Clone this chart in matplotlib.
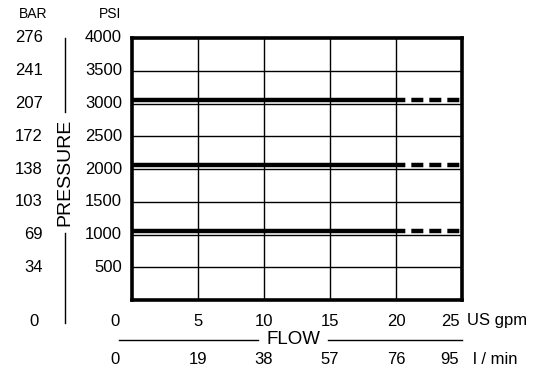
import matplotlib
matplotlib.use('Agg')
from matplotlib import pyplot as plt
from matplotlib.lines import Line2D

plt.rcParams['font.family'] = ['Liberation Sans', 'DejaVu Sans']

# data
gpm_ticks = [0, 5, 10, 15, 20, 25]
lpm_labels = ['0', '19', '38', '57', '76', '95']
psi_ticks = [0, 500, 1000, 1500, 2000, 2500, 3000, 3500, 4000]
bar_labels = ['0', '34', '69', '103', '138', '172', '207', '241', '276']
pressure_lines = [3060, 2060, 1060]
rated_flow = 20
max_flow = 25

W, H = 547, 373
fig = plt.figure(figsize=(W / 100, H / 100), dpi=100)


def fx(x):
    return x / W


def fy(y):
    return 1 - y / H


ax = fig.add_axes([fx(132), fy(300), fx(462) - fx(132), fy(38) - fy(300)])
ax.set_xlim(0, max_flow)
ax.set_ylim(0, 4000)
ax.set_xticks([])
ax.set_yticks([])
for s in ax.spines.values():
    s.set_linewidth(2.6)

# grid
ax.vlines(gpm_ticks[1:-1], 0, 4000, color='black', lw=1.0, zorder=1)
ax.hlines(psi_ticks[1:-1], 0, max_flow, color='black', lw=1.0, zorder=1)

# pressure curves
for p in pressure_lines:
    ax.plot([0, rated_flow], [p, p], color='black', lw=3.2, solid_capstyle='butt', zorder=3)
    ax.plot([rated_flow, max_flow], [p, p], color='black', lw=3.2,
            ls=(0.6, (2.7, 1.35)), dash_capstyle='butt', zorder=3)

fs = 12
# x tick labels (two rows); the gpm "0" doubles as the PSI zero
x_off = {0: -17, 25: -12}
for g, l in zip(gpm_ticks, lpm_labels):
    dx = x_off.get(g, 0)
    ax.annotate(str(g), xy=(g, 0), xycoords=('data', 'axes fraction'),
                xytext=(dx, -21), textcoords='offset pixels',
                ha='center', va='center', fontsize=fs)
    ax.annotate(l, xy=(g, 0), xycoords=('data', 'axes fraction'),
                xytext=(dx, -60), textcoords='offset pixels',
                ha='center', va='center', fontsize=fs)

# y tick labels (PSI and BAR)
for p, b in zip(psi_ticks, bar_labels):
    if p == 0:
        fig.text(fx(39), fy(321), b, ha='right', va='center', fontsize=fs)
        continue
    ax.annotate(str(p), xy=(0, p), xycoords=('axes fraction', 'data'),
                xytext=(-10, 0), textcoords='offset pixels',
                ha='right', va='center', fontsize=fs)
    ax.annotate(b, xy=(0, p), xycoords=('axes fraction', 'data'),
                xytext=(-89, 0), textcoords='offset pixels',
                ha='right', va='center', fontsize=fs)

fig.text(fx(33), fy(14), 'BAR', ha='center', va='center', fontsize=10)
fig.text(fx(110), fy(14), 'PSI', ha='center', va='center', fontsize=10)
fig.text(fx(467), fy(321), 'US gpm', ha='left', va='center', fontsize=fs)
fig.text(fx(473), fy(360), 'l / min', ha='left', va='center', fontsize=fs)

# axis titles with rules
fig.text(fx(293), fy(340), 'FLOW', ha='center', va='center', fontsize=13.5)
for x0, x1 in [(119, 258), (328, 462)]:
    fig.add_artist(Line2D([fx(x0), fx(x1)], [fy(340), fy(340)], color='black', lw=1.0,
                          transform=fig.transFigure))

fig.text(fx(65), fy(172), 'PRESSURE', ha='center', va='center', rotation=90, fontsize=14)
for y0, y1 in [(38, 112), (233, 323)]:
    fig.add_artist(Line2D([fx(65), fx(65)], [fy(y0), fy(y1)], color='black', lw=1.0,
                          transform=fig.transFigure))

fig.savefig('out.png', dpi=100)
